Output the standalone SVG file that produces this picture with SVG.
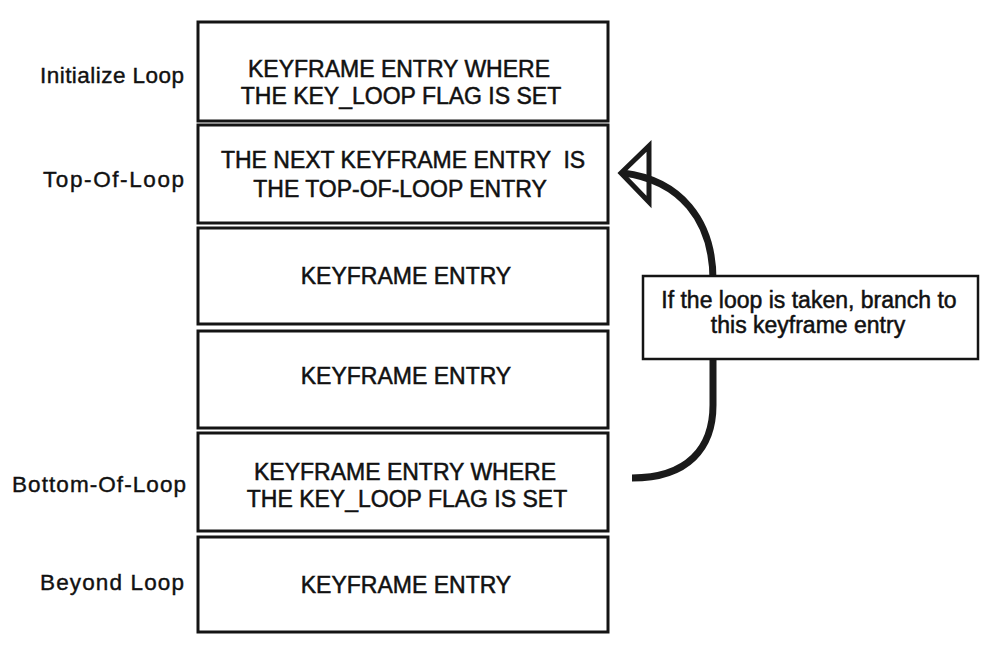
<svg xmlns="http://www.w3.org/2000/svg" width="999" height="656" viewBox="0 0 999 656">
<style>
.box{fill:#fff;stroke:#141414;stroke-width:3}
.callout{fill:#fff;stroke:#141414;stroke-width:2.5}
.t{font-family:"Liberation Sans",Arial,sans-serif;font-size:23px;fill:#111;stroke:#111;stroke-width:0.5;text-anchor:middle}
.lbl{font-family:"Liberation Sans",Arial,sans-serif;font-size:22.5px;fill:#111;stroke:#111;stroke-width:0.4;text-anchor:end}
.arc{fill:none;stroke:#1a1a1a;stroke-width:7}
.head{fill:none;stroke:#1a1a1a;stroke-width:5;stroke-linejoin:miter}
</style>
<rect width="999" height="656" fill="#fff"/>
<g id="labels">
<text class="lbl" x="184" y="83" textLength="144" lengthAdjust="spacing">Initialize Loop</text>
<text class="lbl" x="184" y="187" textLength="141" lengthAdjust="spacing">Top-Of-Loop</text>
<text class="lbl" x="186" y="492" textLength="174" lengthAdjust="spacing">Bottom-Of-Loop</text>
<text class="lbl" x="184" y="590" textLength="144" lengthAdjust="spacing">Beyond Loop</text>
</g>
<g id="entry1">
<rect class="box" x="198" y="22" width="410" height="99"/>
<text class="t" x="399" y="77">KEYFRAME ENTRY WHERE</text>
<text class="t" x="401" y="104">THE KEY_LOOP FLAG IS SET</text>
</g>
<g id="entry2">
<rect class="box" x="198" y="125" width="410" height="98"/>
<text class="t" x="403" y="168" xml:space="preserve">THE NEXT KEYFRAME ENTRY  IS</text>
<text class="t" x="400" y="197">THE TOP-OF-LOOP ENTRY</text>
</g>
<g id="entry3">
<rect class="box" x="198" y="228" width="410" height="96"/>
<text class="t" x="406" y="284">KEYFRAME ENTRY</text>
</g>
<g id="entry4">
<rect class="box" x="198" y="331" width="410" height="97"/>
<text class="t" x="406" y="384">KEYFRAME ENTRY</text>
</g>
<g id="entry5">
<rect class="box" x="198" y="433" width="410" height="98"/>
<text class="t" x="405" y="480">KEYFRAME ENTRY WHERE</text>
<text class="t" x="407" y="507">THE KEY_LOOP FLAG IS SET</text>
</g>
<g id="entry6">
<rect class="box" x="198" y="537" width="410" height="95"/>
<text class="t" x="406" y="593">KEYFRAME ENTRY</text>
</g>
<g id="connectors">
<path class="arc" d="M 632 478 C 688 478, 713 448, 713 405 L 713 280 C 713 220, 680 180, 623 173"/>
<polygon class="head" points="621,173 649,146 649,202"/>
</g>
<g id="callout">
<rect class="callout" x="643" y="276" width="335" height="83"/>
<text class="t" x="809" y="308">If the loop is taken, branch to</text>
<text class="t" x="808" y="333">this keyframe entry</text>
</g>
</svg>
